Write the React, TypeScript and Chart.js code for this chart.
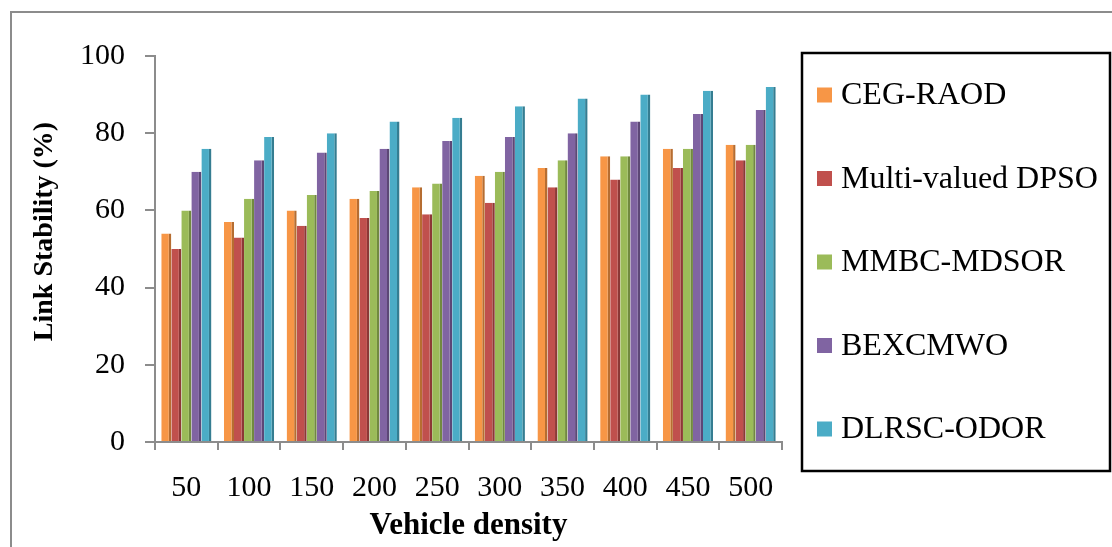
import React, { useEffect, useRef } from "react";
import { Chart, registerables } from "chart.js";

Chart.register(...registerables);

const categories = ["50", "100", "150", "200", "250", "300", "350", "400", "450", "500"];
const seriesNames = ["CEG-RAOD", "Multi-valued DPSO", "MMBC-MDSOR", "BEXCMWO", "DLRSC-ODOR"];
const cegRaod = [54, 57, 60, 63, 66, 69, 71, 74, 76, 77];
const multiValuedDpso = [50, 53, 56, 58, 59, 62, 66, 68, 71, 73];
const mmbcMdsor = [60, 63, 64, 65, 67, 70, 73, 74, 76, 77];
const bexcmwo = [70, 73, 75, 76, 78, 79, 80, 83, 85, 86];
const dlrscOdor = [76, 79, 80, 83, 84, 87, 89, 90, 91, 92];
const yTicks = [0, 20, 40, 60, 80, 100];

const fillColors = ["#F79646", "#C0504D", "#9BBB59", "#8064A2", "#4BACC6"];
const sideColors = ["#B66D31", "#8C3836", "#71893F", "#5C4776", "#357D91"];

const W = 1112;
const H = 547;
const FONT = "'Liberation Serif', 'Times New Roman', serif";

const framePlugin = {
  id: "frame",
  beforeDraw(chart: any) {
    const ctx = chart.ctx;
    ctx.save();
    ctx.fillStyle = "#ffffff";
    ctx.fillRect(0, 0, chart.width, chart.height);
    ctx.strokeStyle = "#8c8c8c";
    ctx.lineWidth = 2;
    ctx.beginPath();
    ctx.moveTo(11, chart.height + 2);
    ctx.lineTo(11, 12);
    ctx.lineTo(chart.width + 2, 12);
    ctx.stroke();
    ctx.restore();
  },
};

const boxLegendPlugin = {
  id: "boxLegend",
  afterDraw(chart: any) {
    const ctx = chart.ctx;
    ctx.save();
    ctx.strokeStyle = "#000";
    ctx.lineWidth = 2.5;
    ctx.strokeRect(802, 53, 308, 418);
    ctx.font = `32px ${FONT}`;
    ctx.textBaseline = "middle";
    ctx.textAlign = "left";
    chart.data.datasets.forEach((ds: any, i: number) => {
      const cy = 95 + i * 83.5;
      ctx.fillStyle = ds.backgroundColor;
      ctx.fillRect(817, cy - 7.5, 15, 15);
      ctx.fillStyle = "#000";
      ctx.fillText(ds.label, 841, cy + 1);
    });
    ctx.restore();
  },
};

export default function App() {
  const ref = useRef<HTMLCanvasElement | null>(null);

  useEffect(() => {
    if (!ref.current) return;
    const series = [cegRaod, multiValuedDpso, mmbcMdsor, bexcmwo, dlrscOdor];
    const chart = new Chart(ref.current, {
      type: "bar",
      data: {
        labels: categories,
        datasets: series.map((d, i) => ({
          label: seriesNames[i],
          data: d,
          backgroundColor: fillColors[i],
          borderColor: sideColors[i],
          borderWidth: { top: 0, left: 0, bottom: 0, right: 2.5 },
          borderSkipped: false,
          categoryPercentage: 0.8,
          barPercentage: 1.0,
        })),
      },
      options: {
        responsive: false,
        animation: false,
        layout: { padding: { left: 0, top: 56, right: W - 782, bottom: 0 } },
        plugins: {
          legend: { display: false },
          tooltip: { enabled: false },
        },
        scales: {
          x: {
            grid: {
              display: true,
              drawOnChartArea: false,
              drawTicks: true,
              tickLength: 8,
              color: "#8c8c8c",
              lineWidth: 2,
              offset: true,
            },
            border: { display: true, color: "#8c8c8c", width: 2 },
            ticks: {
              color: "#000",
              padding: 20,
              maxRotation: 0,
              autoSkip: false,
              font: { family: FONT, size: 30 },
            },
            title: {
              display: true,
              text: "Vehicle density",
              color: "#000",
              font: { family: FONT, size: 31, weight: "bold" },
              padding: { top: 0, bottom: 2 },
            },
            afterFit(scale: any) {
              scale.height = H - 442;
            },
          },
          y: {
            min: 0,
            max: 100,
            afterBuildTicks(scale: any) {
              scale.ticks = yTicks.map((v) => ({ value: v }));
            },
            grid: {
              display: true,
              drawOnChartArea: false,
              drawTicks: true,
              tickLength: 10,
              color: "#8c8c8c",
              lineWidth: 2,
            },
            border: { display: true, color: "#8c8c8c", width: 2 },
            ticks: {
              color: "#000",
              padding: 20,
              font: { family: FONT, size: 30 },
            },
            title: {
              display: true,
              text: "\u00A0\u00A0\u00A0\u00A0\u00A0Link Stability (%)",
              color: "#000",
              font: { family: FONT, size: 28, weight: "bold" },
              padding: { top: 28, bottom: 0 },
            },
            afterFit(scale: any) {
              scale.width = 155;
            },
          },
        },
      },
      plugins: [framePlugin, boxLegendPlugin],
    });
    return () => chart.destroy();
  }, []);

  return (
    <div style={{ position: "fixed", left: 0, top: 0, width: W, height: H, background: "#fff" }}>
      <canvas ref={ref} width={W} height={H} style={{ display: "block", width: W, height: H }} />
    </div>
  );
}
